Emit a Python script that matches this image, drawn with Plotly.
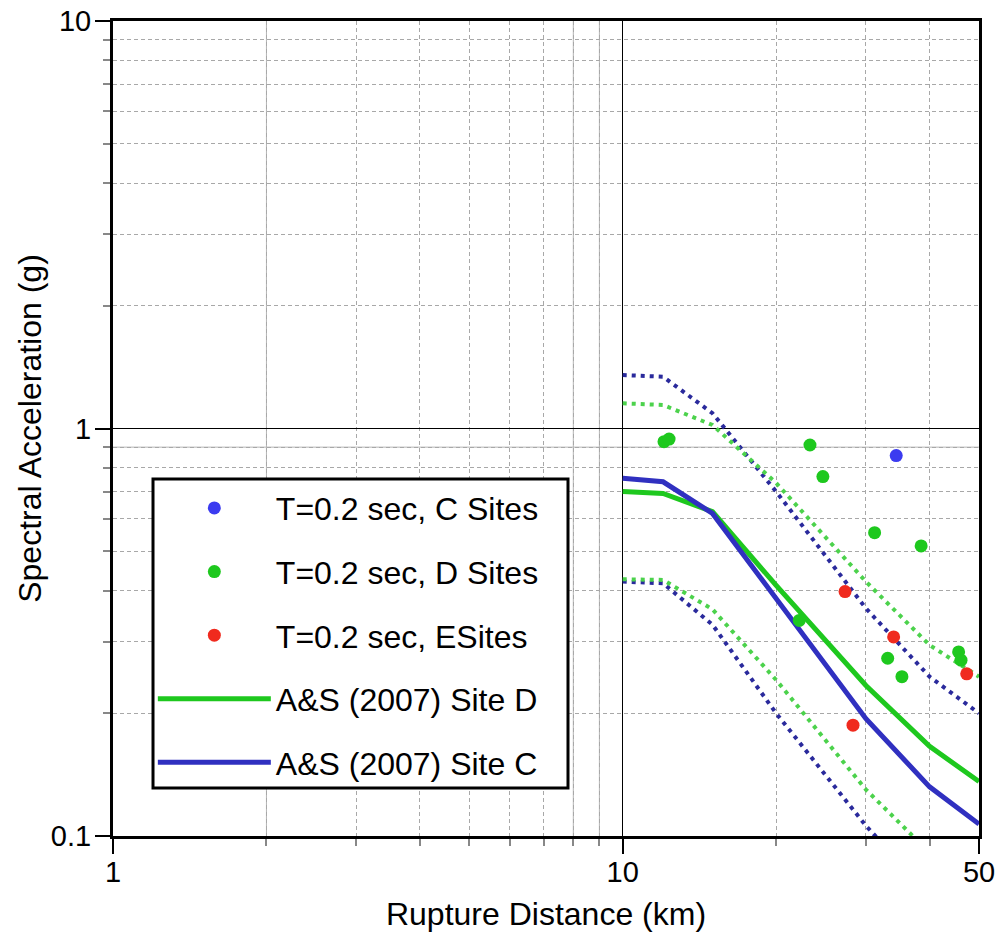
import plotly.graph_objects as go

# ---------------- data ----------------
# observed points (rupture distance km, Sa g)
c_dist = [34.4]
c_sa = [0.858]

d_dist = [12.05, 12.33, 23.3, 24.7, 31.2, 38.5, 22.2, 33.1, 35.3, 45.6, 46.1]
d_sa = [0.928, 0.942, 0.911, 0.762, 0.555, 0.515, 0.338, 0.273, 0.246, 0.283, 0.270]

e_dist = [27.3, 34.0, 47.3, 28.3]
e_sa = [0.398, 0.308, 0.250, 0.187]

# A&S (2007) model curves
model_dist = [10, 12, 15, 20, 30, 40, 50]
siteC_med = [0.755, 0.740, 0.619, 0.381, 0.194, 0.132, 0.107]
siteC_up = [1.353, 1.34, 1.09, 0.70, 0.362, 0.246, 0.200]
siteC_lo = [0.421, 0.417, 0.330, 0.200, 0.106, 0.0715, 0.058]
siteD_med = [0.700, 0.693, 0.625, 0.412, 0.234, 0.166, 0.136]
siteD_up = [1.153, 1.142, 1.02, 0.735, 0.421, 0.294, 0.246]
siteD_lo = [0.4266, 0.425, 0.360, 0.2415, 0.130, 0.091, 0.074]

x_major = [1, 10, 50]
x_major_text = ["1", "10", "50"]
x_minor = [2, 3, 4, 5, 6, 7, 8, 9, 20, 30, 40]
x_solid_minor = [2, 8, 9]
y_major = [0.1, 1, 10]
y_major_text = ["0.1", "1", "10"]
y_minor = [0.2, 0.3, 0.4, 0.5, 0.6, 0.7, 0.8, 0.9, 2, 3, 4, 5, 6, 7, 8, 9]
y_solid_minor = [0.9]

FONT = "Liberation Sans, Arial, Helvetica, sans-serif"
GREEN = "#1ec81e"
BLUE_PT = "#3b3bf0"
RED = "#f02a1e"
BLUE_LINE = "#3030c0"
GREEN_DOT = "#4cd24c"
BLUE_DOT = "#2a2a9c"

fig = go.Figure()

# dotted +/- bounds
for ys, col in [(siteC_up, BLUE_DOT), (siteC_lo, BLUE_DOT), (siteD_up, GREEN_DOT), (siteD_lo, GREEN_DOT)]:
    fig.add_trace(go.Scatter(x=model_dist, y=ys, mode="lines", showlegend=False,
                             line=dict(color=col, width=4, dash="4px,5px"), hoverinfo="skip"))

fig.add_trace(go.Scatter(x=model_dist, y=siteD_med, mode="lines", name="A&S (2007) Site D",
                         line=dict(color=GREEN, width=5), legendrank=4, legendgroup="g4"))
fig.add_trace(go.Scatter(x=model_dist, y=siteC_med, mode="lines", name="A&S (2007) Site C",
                         line=dict(color=BLUE_LINE, width=5), legendrank=5, legendgroup="g5"))

fig.add_trace(go.Scatter(x=c_dist, y=c_sa, mode="markers", name="T=0.2 sec, C Sites",
                         marker=dict(color=BLUE_PT, size=13), legendrank=1, legendgroup="g1"))
fig.add_trace(go.Scatter(x=d_dist, y=d_sa, mode="markers", name="T=0.2 sec, D Sites",
                         marker=dict(color=GREEN, size=13), legendrank=2, legendgroup="g2"))
fig.add_trace(go.Scatter(x=e_dist, y=e_sa, mode="markers", name="T=0.2 sec, ESites",
                         marker=dict(color=RED, size=13), legendrank=3, legendgroup="g3"))

shapes = []
for xv in x_solid_minor:
    shapes.append(dict(type="line", xref="x", yref="paper", x0=xv, x1=xv, y0=0, y1=1,
                       line=dict(color="#b4b4b4", width=1), layer="between"))
for yv in y_solid_minor:
    shapes.append(dict(type="line", xref="paper", yref="y", x0=0, x1=1, y0=yv, y1=yv,
                       line=dict(color="#b4b4b4", width=1), layer="between"))
# legend frame
shapes.append(dict(type="rect", xref="paper", yref="paper", x0=0.0462, x1=0.5254, y0=0.0589, y1=0.438,
                   line=dict(color="black", width=3), fillcolor="white", layer="above"))

fig.update_layout(
    width=1000, height=932,
    margin=dict(l=113, r=21, t=21, b=96, autoexpand=False),
    paper_bgcolor="white", plot_bgcolor="white",
    font=dict(family=FONT, size=32, color="black"),
    shapes=shapes,
    showlegend=True,
    legend=dict(x=0.046, y=0.436, xanchor="left", yanchor="top",
                bgcolor="rgba(0,0,0,0)", borderwidth=0,
                font=dict(size=32, family=FONT), tracegroupgap=19,
                traceorder="grouped", itemwidth=113),
)

fig.update_xaxes(
    type="log", range=[0, 1.69897], automargin=False,
    tickmode="array", tickvals=x_major, ticktext=x_major_text,
    ticks="outside", ticklen=15, tickwidth=1.5, tickcolor="black",
    ticklabelstandoff=-7, ticklabeloverflow="allow",
    showgrid=True, gridcolor="black", gridwidth=1,
    showline=True, linecolor="black", linewidth=3, mirror=True,
    zeroline=False,
    tickfont=dict(size=29, family=FONT),
    title=dict(text="Rupture Distance (km)", font=dict(size=32, family=FONT), standoff=23),
    minor=dict(tickmode="array", tickvals=x_minor, ticks="outside", ticklen=7,
               tickcolor="#888888", showgrid=True, gridcolor="#a8a8a8", griddash="4px,3px", gridwidth=1),
)
fig.update_yaxes(
    type="log", range=[-1, 1], automargin=False,
    tickmode="array", tickvals=y_major, ticktext=y_major_text,
    ticks="outside", ticklen=15, tickwidth=1.5, tickcolor="black",
    ticklabelstandoff=-2, ticklabeloverflow="allow",
    showgrid=True, gridcolor="black", gridwidth=1,
    showline=True, linecolor="black", linewidth=3, mirror=True,
    zeroline=False,
    tickfont=dict(size=29, family=FONT),
    title=dict(text="Spectral Acceleration (g)", font=dict(size=32, family=FONT), standoff=0),
    minor=dict(tickmode="array", tickvals=y_minor, ticks="outside", ticklen=7,
               tickcolor="#888888", showgrid=True, gridcolor="#a8a8a8", griddash="4px,3px", gridwidth=1),
)

# remove the default page margin so the figure fills the 1000x932 window
fig.write_html("out.html", config={"displayModeBar": False},
               post_script="document.body.style.margin='0';")
